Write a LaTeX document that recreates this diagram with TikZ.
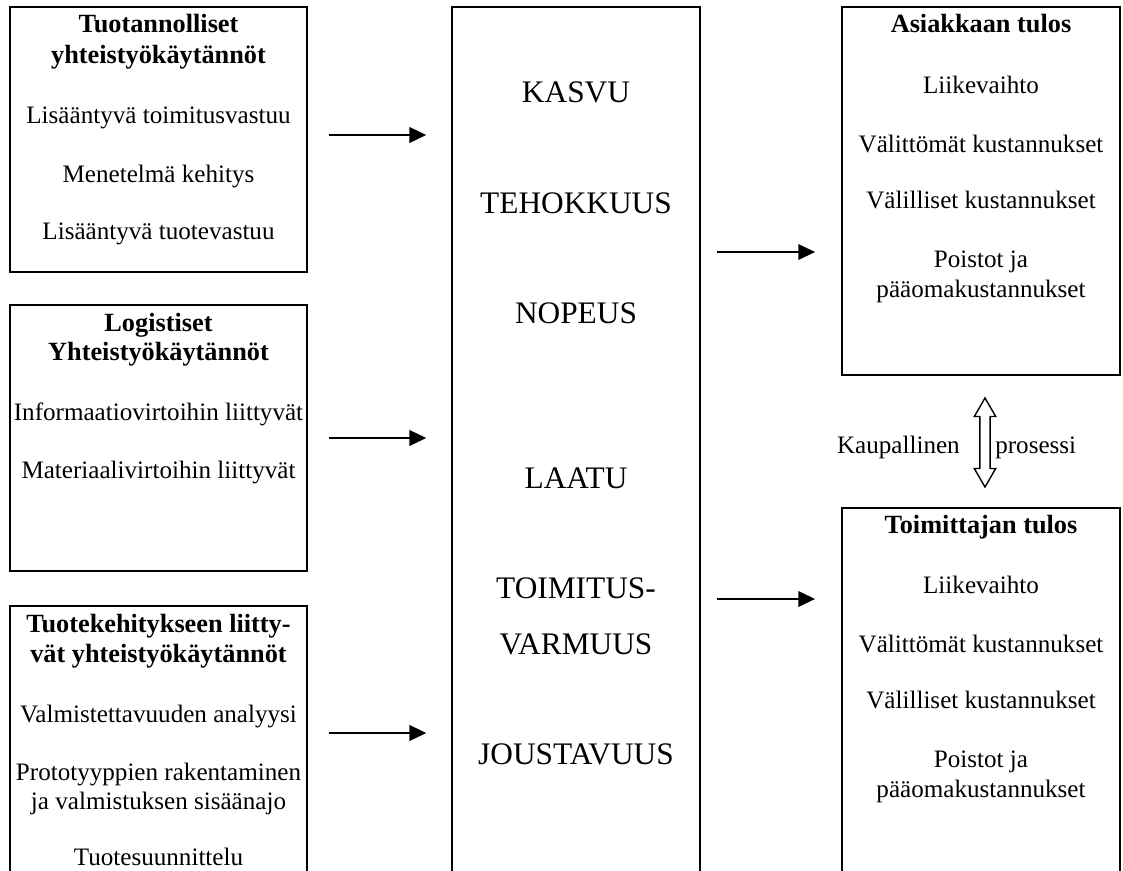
\documentclass[tikz,border=0pt]{standalone}
\usepackage{fontspec}
\setmainfont{Liberation Serif}
\usetikzlibrary{arrows.meta,fit,shapes.arrows}

\tikzset{
  box/.style={draw, line width=1.2pt, inner sep=0pt},
  head/.style={font=\fontsize{18.7}{22}\selectfont\bfseries, anchor=base, inner sep=0pt},
  item/.style={font=\fontsize{17.85}{21}\selectfont, anchor=base, inner sep=0pt},
  big/.style={font=\fontsize{22.3}{26}\selectfont, anchor=base, inner sep=0pt},
  arr/.style={line width=1.6pt, -{Triangle[length=12pt,width=11pt]}},
}

\begin{document}
\begin{tikzpicture}[x=0.025cm,y=-0.025cm]
\useasboundingbox (0,0) rectangle (1123,870);
\clip (0,0) rectangle (1123,870);

% laatikot
\node[box, fit={(10,7) (307,272)}] (tuot) {};
\node[box, fit={(10,305) (307,571)}] (logi) {};
\node[box, fit={(10,606) (307,900)}] (kehi) {};
\node[box, line width=0.9pt, fit={(452,7) (700,900)}] (keski) {};
\node[box, fit={(842,7) (1120,375)}] (asiak) {};
\node[box, fit={(842,508) (1120,900)}] (toim) {};

% vasen sarake
\foreach \y/\teksti [count=\i] in {32/Tuotannolliset, 63/yhteistyökäytännöt}
  \node[head] (tuot-h\i) at (158.5,\y) {\teksti};
\foreach \y/\teksti [count=\i] in {123/Lisääntyvä toimitusvastuu, 182/Menetelmä kehitys, 239/Lisääntyvä tuotevastuu}
  \node[item] (tuot-\i) at (158.5,\y) {\teksti};

\foreach \y/\teksti [count=\i] in {331/Logistiset, 360/Yhteistyökäytännöt}
  \node[head] (logi-h\i) at (158.5,\y) {\teksti};
\foreach \y/\teksti [count=\i] in {420/Informaatiovirtoihin liittyvät, 478/Materiaalivirtoihin liittyvät}
  \node[item] (logi-\i) at (158.5,\y) {\teksti};

\foreach \y/\teksti [count=\i] in {632/Tuotekehitykseen liitty-, 662/vät yhteistyökäytännöt}
  \node[head] (kehi-h\i) at (158.5,\y) {\teksti};
\foreach \y/\teksti [count=\i] in {722/Valmistettavuuden analyysi, 780/Prototyyppien rakentaminen, 809/ja valmistuksen sisäänajo, 865/Tuotesuunnittelu}
  \node[item] (kehi-\i) at (158.5,\y) {\teksti};

% keskimmainen
\foreach \y/\teksti [count=\i] in {102/KASVU, 213/TEHOKKUUS, 323/NOPEUS, 488/LAATU, 598/TOIMITUS-, 654/VARMUUS, 764/JOUSTAVUUS}
  \node[big] (keski-\i) at (576,\y) {\teksti};

% oikea sarake
\node[head] (asiak-h) at (981,32) {Asiakkaan tulos};
\foreach \y/\teksti [count=\i] in {93/Liikevaihto, 152/Välittömät kustannukset, 208/Välilliset kustannukset, 267/Poistot ja, 297/pääomakustannukset}
  \node[item] (asiak-\i) at (981,\y) {\teksti};

\node[head] (toim-h) at (981,533) {Toimittajan tulos};
\foreach \y/\teksti [count=\i] in {593/Liikevaihto, 652/Välittömät kustannukset, 708/Välilliset kustannukset, 767/Poistot ja, 797/pääomakustannukset}
  \node[item] (toim-\i) at (981,\y) {\teksti};

% nuolet
\coordinate (r1) at (0,135);
\coordinate (r2) at (0,438);
\coordinate (r3) at (0,733);
\coordinate (r4) at (0,252);
\coordinate (r5) at (0,599);

\foreach \a/\r in {tuot/r1, logi/r2, kehi/r3}
  \draw[arr, shorten <=14.9pt, shorten >=17.8pt] (\a.east |- \r) -- (keski.west |- \r);
\draw[arr, shorten <=11.4pt, shorten >=18.5pt] (keski.east |- r4) -- (asiak.west |- r4);
\draw[arr, shorten <=11.4pt, shorten >=18.5pt] (keski.east |- r5) -- (toim.west |- r5);

\node[draw, double arrow, rotate=90, line width=1pt, minimum height=2.225cm, minimum width=0.5cm,
  inner sep=0.11cm, double arrow head extend=0.14cm, double arrow tip angle=60] (kaup) at (985,442.5) {};
\node[item, anchor=base east] (kaup-l) at (960,453) {Kaupallinen};
\node[item, anchor=base west] (kaup-r) at (995,453) {prosessi};
\end{tikzpicture}
\end{document}
